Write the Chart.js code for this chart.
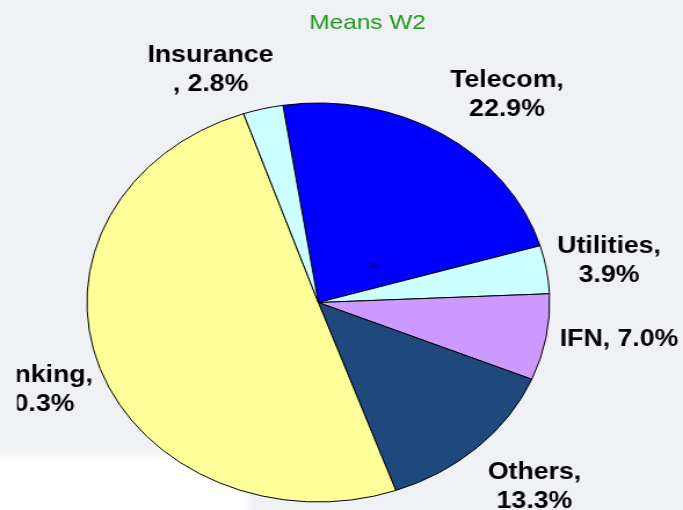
<!DOCTYPE html>
<html>
<head>
<meta charset="utf-8">
<script src="https://cdn.jsdelivr.net/npm/chart.js@4/dist/chart.umd.min.js"></script>
<style>
  html, body { margin: 0; padding: 0; }
  body { width: 683px; height: 510px; overflow: hidden; background: #f0f1f5; position: relative; }
  #shade { position: absolute; left: -20px; top: 454px; width: 268px; height: 90px; background: #fff; filter: blur(4px); }
  #wrap { position: absolute; left: 0; top: 0; width: 589px; height: 510px; transform: scaleX(1.1596); transform-origin: 0 0; }
</style>
</head>
<body>
<div id="shade"></div>
<div id="wrap"><canvas id="pie" width="589" height="510"></canvas></div>
<script>
// values, clockwise from Telecom
var categories = ['Telecom', 'Utilities', 'IFN', 'Others', 'Banking', 'Insurance'];
var shares = [22.9, 3.9, 7.0, 13.3, 50.3, 2.8];
var colours = ['#0000ff', '#ccffff', '#cc99ff', '#1f497d', '#ffff99', '#ccffff'];
// how each label wraps: 0 = after the comma, 1 = before the comma, 2 = one line
var wrapMode = [0, 0, 2, 0, 0, 1];
// small hand nudges, like moved data labels in the original
var nudge = [[24, 12], [-5, 2], [4, -8], [8, -4], [2, 2], [-31, 19]];

function labelLines(i){
    var v = shares[i].toFixed(1) + '%';
    if(wrapMode[i] == 0) return [categories[i] + ',', v];
    if(wrapMode[i] == 1) return [categories[i], ', ' + v];
    return [categories[i] + ', ' + v];
}

var pieLabels = {
    id: 'pieLabels',
    afterDatasetsDraw: function(chart){
        var ctx = chart.ctx;
        var arcs = chart.getDatasetMeta(0).data;
        ctx.save();
        ctx.beginPath();
        ctx.rect(14.7, 0, chart.width, chart.height);
        ctx.clip();
        ctx.fillStyle = '#000';
        ctx.font = 'bold 23px "Liberation Sans", Arial, sans-serif';
        ctx.textAlign = 'center';
        ctx.textBaseline = 'middle';
        for(var i = 0; i < arcs.length; i++){
            var a = arcs[i];
            var mid = (a.startAngle + a.endAngle) / 2;
            var lx = a.x + Math.cos(mid) * a.outerRadius * 1.3 + nudge[i][0];
            var ly = a.y + Math.sin(mid) * a.outerRadius * 1.3 + nudge[i][1];
            var lines = labelLines(i);
            var top = ly - (lines.length - 1) * 29 / 2;
            for(var j = 0; j < lines.length; j++){
                ctx.fillText(lines[j], lx, top + j * 29);
            }
        }
        ctx.restore();

        ctx.save();
        ctx.fillStyle = '#000';
        ctx.font = 'bold 7px "Liberation Sans", Arial, sans-serif';
        ctx.textAlign = 'center';
        ctx.textBaseline = 'middle';
        ctx.fillText('32', 322, 266);
        ctx.fillStyle = '#1f971f';
        ctx.font = '21px "Liberation Sans", Arial, sans-serif';
        ctx.fillText('Means W2', 317, 23);
        ctx.restore();
    }
};

new Chart(document.getElementById('pie'), {
    type: 'pie',
    data: {
        labels: categories,
        datasets: [{
            data: shares,
            backgroundColor: colours,
            borderColor: '#000',
            borderWidth: 1
        }]
    },
    options: {
        responsive: false,
        devicePixelRatio: 1,
        animation: false,
        rotation: -8.8,
        radius: 199.5,
        layout: { padding: { left: 75, right: 115, top: 103, bottom: 8 } },
        plugins: {
            legend: { display: false },
            tooltip: { enabled: false },
            title: { display: false }
        }
    },
    plugins: [pieLabels]
});
</script>
</body>
</html>
